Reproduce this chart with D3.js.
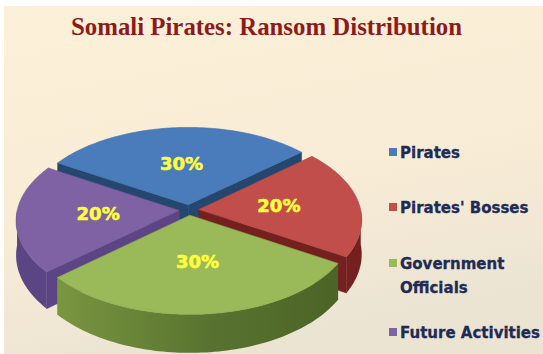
<!DOCTYPE html>
<html>
<head>
<meta charset="utf-8">
<script src="https://cdn.jsdelivr.net/npm/d3@7"></script>
<style>
  html, body { margin: 0; padding: 0; background: #fff; }
  svg { display: block; }
</style>
</head>
<body>
<svg id="viz"></svg>
<script>
(function() {
  const title = 'Somali Pirates: Ransom Distribution';
  const categories = ['Pirates', "Pirates' Bosses", 'Government Officials', 'Future Activities'];
  const shares = [30, 20, 30, 20];
  const legendLines = [['Pirates'], ["Pirates' Bosses"], ['Government', 'Officials'], ['Future Activities']];

  const topColors = ['#4a7bba', '#c24e4b', '#9aba59', '#7e62a3'];
  const sideColors = ['#24466f', '#73201f', '#5a7530', '#5b4584'];

  const width = 543, height = 354;
  const svg = d3.select('#viz').attr('width', width).attr('height', height);

  // background
  const defs = svg.append('defs');
  const bg = defs.append('linearGradient').attr('id', 'bg')
    .attr('x1', 0).attr('y1', 0).attr('x2', 0.3).attr('y2', 1);
  bg.append('stop').attr('offset', '0%').attr('stop-color', '#fdf0d8');
  bg.append('stop').attr('offset', '60%').attr('stop-color', '#f8ecd6');
  bg.append('stop').attr('offset', '100%').attr('stop-color', '#ece4d3');
  svg.append('rect').attr('x', 4).attr('y', 6).attr('width', width - 4).attr('height', height - 6)
    .attr('fill', 'url(#bg)');

  const gGreen = defs.append('linearGradient').attr('id', 'wall2')
    .attr('gradientUnits', 'userSpaceOnUse').attr('x1', 40).attr('x2', 350).attr('y1', 0).attr('y2', 0);
  gGreen.append('stop').attr('offset', '0%').attr('stop-color', '#7d9a42');
  gGreen.append('stop').attr('offset', '55%').attr('stop-color', '#587330');
  gGreen.append('stop').attr('offset', '100%').attr('stop-color', '#4a6326');

  // title
  svg.append('text')
    .attr('x', 71).attr('y', 35)
    .attr('textLength', 391).attr('lengthAdjust', 'spacingAndGlyphs')
    .style('font-family', '"Liberation Serif", "Times New Roman", serif')
    .style('font-weight', 'bold').style('font-size', '25px')
    .attr('fill', '#8e1b1b')
    .text(title);

  // pseudo-3D projection of the pie disc
  const cx = 189, cy = 210, a = 162, b = 87, p = 0.11, depth = 34, explode = 0.06;
  const proj = (u, v) => {
    const d = 1 - p * v;
    return [cx + a * u / d, cy + b * v / d, depth / d];
  };
  const topPt = (u, v) => { const q = proj(u, v); return [q[0], q[1]]; };
  const botPt = (u, v) => { const q = proj(u, v); return [q[0], q[1] + q[2]]; };

  const arcs = d3.pie().sort(null).value(d => d)
    .startAngle(-59 * Math.PI / 180).endAngle(301 * Math.PI / 180)(shares);

  const slices = arcs.map((s, i) => {
    const mid = (s.startAngle + s.endAngle) / 2;
    return { i, s, mid, ox: explode * Math.sin(mid), oy: -explode * Math.cos(mid) };
  });

  const line = d3.line();
  const pie = svg.append('g');

  // far slices first
  slices.slice().sort((m, n) => Math.cos(n.mid) - Math.cos(m.mid)).forEach(sl => {
    const { s, ox, oy, i } = sl;
    const uv = (ang, r) => [ox + r * Math.sin(ang), oy - r * Math.cos(ang)];
    const g = pie.append('g');

    // radial cut faces that face the viewer
    [[s.startAngle, -1], [s.endAngle, 1]].forEach(([ang, dir]) => {
      if (dir * Math.sin(ang) <= 0) return;
      const c = uv(ang, 0), e = uv(ang, 1);
      g.append('path')
        .attr('d', line([topPt(...c), topPt(...e), botPt(...e), botPt(...c)]) + 'Z')
        .attr('fill', sideColors[i]).attr('stroke', sideColors[i]).attr('stroke-width', 0.5);
    });

    // outer wall, front-facing part only
    const n = 80;
    const run = [];
    for (let k = 0; k <= n; k++) {
      const ang = s.startAngle + (s.endAngle - s.startAngle) * k / n;
      if (Math.cos(ang) < 0) run.push(ang);
    }
    if (run.length > 1) {
      const tops = run.map(ang => topPt(...uv(ang, 1)));
      const bots = run.map(ang => botPt(...uv(ang, 1))).reverse();
      g.append('path')
        .attr('d', line(tops.concat(bots)) + 'Z')
        .attr('fill', i === 2 ? 'url(#wall2)' : sideColors[i])
        .attr('stroke', 'none');
    }

    // top face
    const pts = [topPt(...uv(0, 0))];
    for (let k = 0; k <= n; k++) {
      const ang = s.startAngle + (s.endAngle - s.startAngle) * k / n;
      pts.push(topPt(...uv(ang, 1)));
    }
    g.append('path')
      .attr('d', line(pts) + 'Z')
      .attr('fill', topColors[i]).attr('stroke', d3.color(topColors[i]).darker(0.3)).attr('stroke-width', 0.6);

    // value label
    const lp = topPt(...uv(sl.mid, 0.5));
    g.append('text')
      .attr('x', lp[0]).attr('y', lp[1] + 6)
      .attr('text-anchor', 'middle')
      .style('font-family', '"DejaVu Sans", sans-serif')
      .style('font-weight', 'bold').style('font-size', '18px')
      .attr('fill', '#ffff3c').attr('stroke', '#ffff3c').attr('stroke-width', 0.6)
      .text(shares[i] + '%');
  });

  // legend
  const legendY = [158, 213, 269, 338];
  const legend = svg.append('g').attr('transform', 'translate(389, 0)');
  categories.forEach((c, i) => {
    const it = legend.append('g').attr('transform', `translate(0, ${legendY[i]})`);
    it.append('rect').attr('x', 0).attr('y', -10).attr('width', 8).attr('height', 8).attr('fill', topColors[i]);
    legendLines[i].forEach((t, j) => {
      it.append('text')
        .attr('x', 11).attr('y', j * 24)
        .style('font-family', '"DejaVu Sans", sans-serif')
        .style('font-weight', 'bold').style('font-size', '15px')
        .attr('fill', '#1d2b55').attr('stroke', '#1d2b55').attr('stroke-width', 0.3)
        .text(t);
    });
  });
})();
</script>
</body>
</html>
